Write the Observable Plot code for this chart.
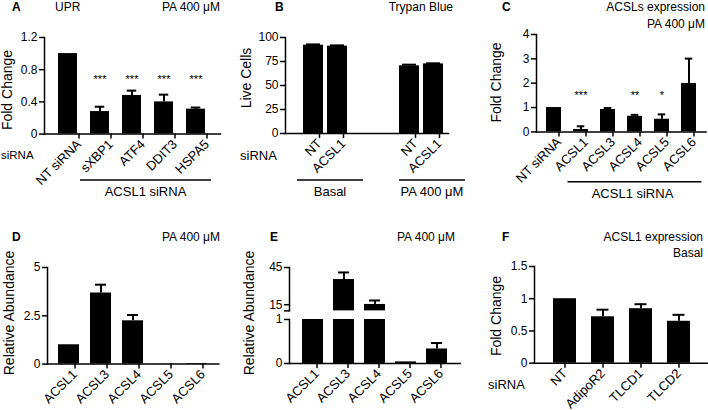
<!DOCTYPE html>
<html><head><meta charset="utf-8">
<script src="https://cdn.jsdelivr.net/npm/d3@7"></script>
<script src="https://cdn.jsdelivr.net/npm/@observablehq/plot@0.6"></script>
<style>
body{margin:0;background:#fff;}
#fig{position:relative;width:708px;height:410px;overflow:hidden;background:#fff;font-family:"Liberation Sans",Arial,sans-serif;}
#fig svg{position:absolute;overflow:visible;}
</style></head><body><div id="fig"></div>
<script>
// ---------- DATA ----------
// A: UPR, PA 400 µM
const uprGenes = ["NT siRNA", "sXBP1", "ATF4", "DDIT3", "HSPA5"];
const uprMean  = [1.0, 0.28, 0.48, 0.40, 0.31];
const uprSem   = [0, 0.06, 0.06, 0.09, 0.02];
const uprSig   = ["", "***", "***", "***", "***"];
// B: Trypan Blue
const trypanSiRNA = ["NT", "ACSL1", "NT", "ACSL1"];
const trypanCond  = ["Basal", "Basal", "PA", "PA"];
const trypanMean  = [92, 91, 70.5, 72.5];
const trypanSem   = [0.8, 0.8, 1.2, 0.6];
// C: ACSLs expression, PA 400 µM
const acslKD     = ["NT siRNA", "ACSL1", "ACSL3", "ACSL4", "ACSL5", "ACSL6"];
const acslKDMean = [1.0, 0.10, 0.92, 0.64, 0.52, 1.99];
const acslKDSem  = [0, 0.13, 0.06, 0.06, 0.20, 1.02];
const acslKDSig  = ["", "***", "", "**", "*", ""];
// D / E: relative abundance, PA 400 µM
const isoforms = ["ACSL1", "ACSL3", "ACSL4", "ACSL5", "ACSL6"];
const dMean = [1.0, 3.68, 2.24, 0.005, 0.03];
const dSem  = [0, 0.43, 0.30, 0, 0];
const eMean = [1.0, 35.3, 15.2, 0.036, 0.33];
const eSem  = [0, 5.7, 3.2, 0, 0.135];
// F: ACSL1 expression, Basal
const fSiRNA = ["NT", "AdipoR2", "TLCD1", "TLCD2"];
const fMean  = [1.0, 0.72, 0.845, 0.65];
const fSem   = [0, 0.11, 0.07, 0.10];

// ---------- HELPERS ----------
const FONT = '"Liberation Sans", Arial, sans-serif';
const M = 40;
const fig = document.getElementById("fig");

function rows(names, mean, sem, sig) {
  return names.map((g, i) => ({g, m: mean[i], s: sem[i], sig: sig ? sig[i] : ""}));
}
function barMarks(data, inset) {
  const e = data.filter(d => d.s > 0);
  return [
    Plot.barY(data, {x: "g", y: "m", fill: "#000"}),
    Plot.ruleX(e, {x: "g", y1: "m", y2: d => d.m + d.s, stroke: "#000", strokeWidth: 2}),
    Plot.tickY(e, {x: "g", y: d => d.m + d.s, stroke: "#000", strokeWidth: 2, insetLeft: inset, insetRight: inset})
  ];
}
function panel(o) {
  const p = Plot.plot({
    width: o.x1 - o.x0 + 2 * M, height: o.y1 - o.y0 + 2 * M,
    marginLeft: M, marginRight: M, marginTop: M, marginBottom: M,
    style: {fontFamily: FONT, fontSize: "12px", color: "#000", background: "transparent", overflow: "visible"},
    x: {type: "band", domain: o.domain, ...o.band, axis: null},
    y: {domain: o.yDomain, axis: null},
    marks: [
      ...o.marks,
      Plot.frame({anchor: "left", stroke: "#000", strokeWidth: 1.5}),
      o.xAxis === false ? null : Plot.frame({anchor: "bottom", stroke: "#000", strokeWidth: 1.5}),
      Plot.axisY({ticks: o.yTicks, tickFormat: o.yFormat || (d => String(d)), tickSize: 5, tickPadding: 2, stroke: "#000", strokeWidth: 1.5, fontSize: 12, label: null}),
      o.xAxis === false ? null : Plot.axisX({ticks: o.xTicks, tickFormat: o.xFormat, tickRotate: -45, tickSize: 5, tickPadding: 3, dx: o.labelDx || 0, stroke: "#000", strokeWidth: 1.5, fontSize: 13, label: null})
    ]
  });
  p.style.left = (o.x0 - M) + "px";
  p.style.top = (o.y0 - M) + "px";
  fig.appendChild(p);
  p._x0 = o.x0 - M;
  return p;
}
function bandPos(p, v) { const s = p.scale("x"); return {start: p._x0 + s.apply(v), end: p._x0 + s.apply(v) + s.bandwidth}; }

// ---------- PANEL A ----------
const dA = rows(uprGenes, uprMean, uprSem, uprSig);
const pA = panel({x0: 44, x1: 220, y0: 36.7, y1: 133.3, domain: uprGenes,
  band: {paddingInner: 0.4, paddingOuter: 0.42, align: 0.5}, labelDx: 11,
  yDomain: [0, 1.2], yTicks: [0, 0.4, 0.8, 1.2],
  marks: [...barMarks(dA, 4.75), Plot.text(dA, {x: "g", y: () => 0.71, text: "sig", fontSize: 11, dy: 3})]});

// ---------- PANEL B ----------
const dB = trypanSiRNA.map((g, i) => ({g: g + "|" + trypanCond[i], m: trypanMean[i], s: trypanSem[i]}));
const bKeys = dB.map(d => d.g);
const bDomain = [bKeys[0], bKeys[1], "gap1", "gap2", bKeys[2], bKeys[3]];
const pB = panel({x0: 285, x1: 448, y0: 37.3, y1: 133.3, domain: bDomain,
  band: {paddingInner: 0.17, paddingOuter: 0.41, align: 0.785}, labelDx: 6,
  yDomain: [0, 100], yTicks: [0, 25, 50, 75, 100],
  xTicks: bKeys, xFormat: d => d.split("|")[0],
  marks: barMarks(dB, 3)});

// ---------- PANEL C ----------
const dC = rows(acslKD, acslKDMean, acslKDSem, acslKDSig);
const pC = panel({x0: 535.5, x1: 705, y0: 34.3, y1: 131.7, domain: acslKD,
  band: {paddingInner: 0.43, paddingOuter: 0.31, align: 0.5}, labelDx: 5,
  yDomain: [0, 4], yTicks: [0, 1, 2, 3, 4],
  marks: [...barMarks(dC, 3.75), Plot.text(dC, {x: "g", y: () => 1.6, text: "sig", fontSize: 11, dy: 3})]});

// ---------- PANEL D ----------
const dD = rows(isoforms, dMean, dSem);
const pD = panel({x0: 46.7, x1: 218, y0: 266.7, y1: 363.3, domain: isoforms,
  band: {paddingInner: 0.334, paddingOuter: 0.32, align: 0.5}, labelDx: 6,
  yDomain: [0, 5], yTicks: [0, 2.5, 5],
  marks: barMarks(dD, 5)});

// ---------- PANEL E (broken axis) ----------
const dE = rows(isoforms, eMean, eSem);
const eUp = dE.filter(d => d.m > 1);
const eLow = dE.map(d => ({...d, m: Math.min(d.m, 1), s: d.m > 1 ? 0 : d.s}));
const eBand = {paddingInner: 0.32, paddingOuter: 0.336, align: 0.5};
const pEu = panel({x0: 289.3, x1: 460, y0: 267.3, y1: 310.7, domain: isoforms, band: eBand,
  yDomain: [10, 45], yTicks: [10, 15, 45], yFormat: d => d === 10 ? "" : String(d), xAxis: false,
  marks: [
    Plot.barY(eUp, {x: "g", y1: () => 10, y2: "m", fill: "#000"}),
    Plot.ruleX(eUp, {x: "g", y1: "m", y2: d => d.m + d.s, stroke: "#000", strokeWidth: 2}),
    Plot.tickY(eUp, {x: "g", y: d => d.m + d.s, stroke: "#000", strokeWidth: 2, insetLeft: 5, insetRight: 5})
  ]});
const pE = panel({x0: 289.3, x1: 460, y0: 319.3, y1: 363.3, domain: isoforms, band: eBand, labelDx: 4,
  yDomain: [0, 1], yTicks: [0, 1],
  marks: barMarks(eLow, 5)});

// ---------- PANEL F ----------
const dF = rows(fSiRNA, fMean, fSem);
const pF = panel({x0: 534, x1: 706.7, y0: 266, y1: 362.7, domain: fSiRNA,
  band: {paddingInner: 0.385, paddingOuter: 0.41, align: 0.53}, labelDx: 0,
  yDomain: [0, 1.5], yTicks: [0, 0.5, 1, 1.5],
  marks: barMarks(dF, 5.5)});

// ---------- ANNOTATIONS ----------
const ov = d3.select(fig).append("svg").attr("width", 708).attr("height", 410)
  .style("left", "0px").style("top", "0px").style("font-family", FONT).style("pointer-events", "none");
function txt(x, y, s, o = {}) {
  const t = ov.append("text").attr("x", x).attr("y", y).text(s)
    .attr("font-size", o.size || 12).attr("fill", "#000")
    .attr("text-anchor", o.anchor || "start");
  if (o.bold) t.attr("font-weight", "bold");
  if (o.rot) t.attr("transform", `rotate(-90 ${x} ${y})`);
  return t;
}
function line(x1, x2, y) {
  ov.append("line").attr("x1", x1).attr("x2", x2).attr("y1", y).attr("y2", y).attr("stroke", "#000").attr("stroke-width", 1.5);
}
// panel letters & titles
txt(12, 11, "A", {bold: true});
txt(55, 11, "UPR");
txt(220, 11, "PA 400 μM", {anchor: "end"});
txt(275, 11, "B", {bold: true});
txt(453, 11, "Trypan Blue", {anchor: "end"});
txt(502, 11, "C", {bold: true});
txt(705, 11, "ACSLs expression", {anchor: "end"});
txt(705, 28, "PA 400 μM", {anchor: "end"});
txt(12, 241, "D", {bold: true});
txt(220, 241, "PA 400 μM", {anchor: "end"});
txt(270, 241, "E", {bold: true});
txt(455, 241, "PA 400 μM", {anchor: "end"});
txt(502, 241, "F", {bold: true});
txt(703, 241, "ACSL1 expression", {anchor: "end"});
txt(703, 257, "Basal", {anchor: "end"});
// y labels
txt(11.7, 90, "Fold Change", {rot: true, anchor: "middle", size: 14});
txt(251, 78, "Live Cells", {rot: true, anchor: "middle", size: 14});
txt(500.5, 82.5, "Fold Change", {rot: true, anchor: "middle", size: 14});
txt(14, 313, "Relative Abundance", {rot: true, anchor: "middle", size: 14});
txt(254, 313, "Relative Abundance", {rot: true, anchor: "middle", size: 14});
txt(500.5, 316, "Fold Change", {rot: true, anchor: "middle", size: 14});
// siRNA row labels
txt(1, 159, "siRNA", {size: 11.5});
txt(240, 160, "siRNA", {size: 13});
txt(488, 389, "siRNA", {size: 13});
// group lines
{
  const a1 = bandPos(pA, uprGenes[1]).start - 10, a2 = bandPos(pA, uprGenes[4]).end + 6;
  line(a1, a2, 180); txt((a1 + a2) / 2, 196, "ACSL1 siRNA", {anchor: "middle", size: 13});
  const b1 = bandPos(pB, bKeys[0]).start - 6, b2 = bandPos(pB, bKeys[1]).end + 16;
  line(b1, b2, 180); txt((b1 + b2) / 2, 196, "Basal", {anchor: "middle", size: 13});
  const b3 = bandPos(pB, bKeys[2]).start, b4 = bandPos(pB, bKeys[3]).end + 22;
  line(b3, b4, 180); txt((b3 + b4) / 2, 196, "PA 400 μM", {anchor: "middle", size: 13});
  const c1 = bandPos(pC, acslKD[1]).start - 5, c2 = bandPos(pC, acslKD[5]).end + 6;
  line(c1, c2, 181.7); txt((c1 + c2) / 2 - 2, 197.5, "ACSL1 siRNA", {anchor: "middle", size: 13});
}
</script></body></html>
